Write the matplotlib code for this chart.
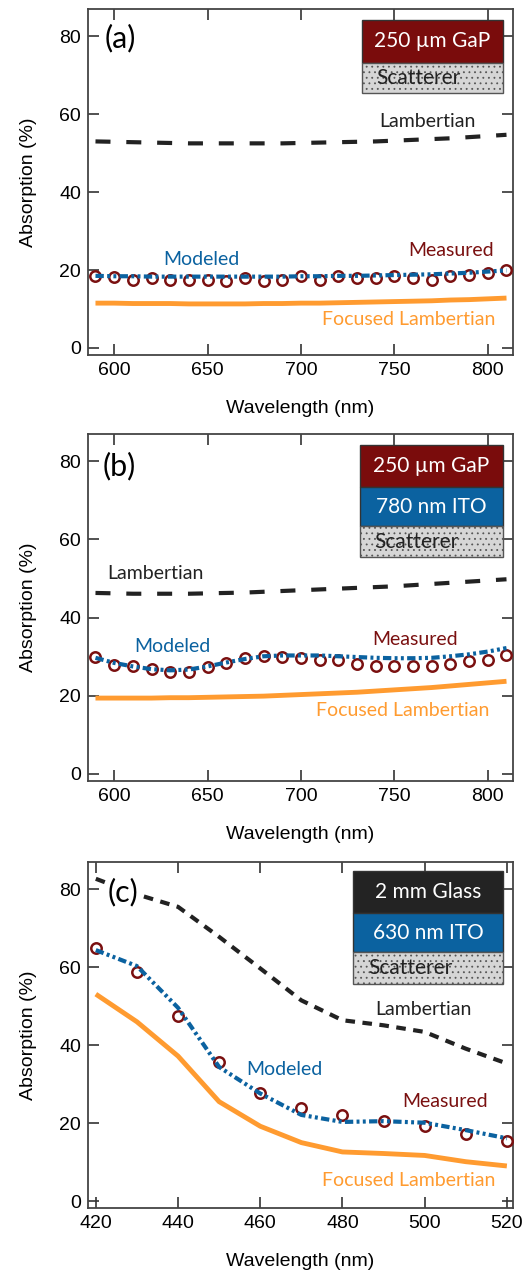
import matplotlib
matplotlib.use("Agg")
import matplotlib.pyplot as plt
from matplotlib.patches import Rectangle
import numpy as np

# ----------------------------------------------------------------------
# Data
# ----------------------------------------------------------------------

wl_ab = np.arange(590, 811, 10)
wl_c = np.arange(420, 521, 10)

# panel (a): 250 um GaP on scatterer
lamb_a = [53.0, 52.9, 52.8, 52.7, 52.6, 52.5, 52.5, 52.5, 52.5, 52.5, 52.5, 52.6,
          52.7, 52.8, 52.9, 53.0, 53.2, 53.4, 53.6, 53.8, 54.1, 54.4, 54.7]
model_a = [18.5, 18.4, 18.4, 18.3, 18.3, 18.3, 18.3, 18.3, 18.3, 18.3, 18.3, 18.4,
           18.4, 18.5, 18.5, 18.6, 18.7, 18.8, 18.9, 19.1, 19.3, 19.6, 19.9]
meas_a = [18.5, 18.1, 17.4, 17.9, 17.5, 17.5, 17.5, 17.1, 17.9, 17.3, 17.5, 18.4,
          17.5, 18.4, 17.9, 17.9, 18.5, 17.9, 17.4, 18.5, 18.7, 19.2, 19.9]
focus_a = [11.5, 11.5, 11.4, 11.4, 11.4, 11.3, 11.3, 11.3, 11.3, 11.4, 11.4, 11.5,
           11.5, 11.6, 11.7, 11.8, 11.9, 12.0, 12.1, 12.3, 12.4, 12.6, 12.8]

# panel (b): 250 um GaP / 780 nm ITO on scatterer
lamb_b = [46.3, 46.2, 46.1, 46.1, 46.1, 46.1, 46.2, 46.3, 46.4, 46.6, 46.8, 47.0,
          47.2, 47.4, 47.6, 47.8, 48.0, 48.3, 48.6, 48.9, 49.2, 49.5, 49.8]
model_b = [29.7, 28.4, 27.5, 26.8, 26.5, 26.7, 27.5, 28.5, 29.4, 30.1, 30.3, 30.3,
           30.3, 30.1, 29.9, 29.7, 29.6, 29.6, 29.7, 30.1, 30.6, 31.3, 32.2]
meas_b = [29.9, 27.9, 27.5, 26.8, 26.2, 26.2, 27.4, 28.4, 29.7, 30.1, 29.9, 29.7,
          29.2, 29.1, 28.2, 27.5, 27.5, 27.5, 27.5, 28.2, 29.0, 29.2, 30.3]
focus_b = [19.4, 19.4, 19.4, 19.4, 19.5, 19.5, 19.6, 19.7, 19.8, 19.9, 20.1, 20.3,
           20.5, 20.7, 20.9, 21.2, 21.5, 21.8, 22.1, 22.5, 22.9, 23.3, 23.7]

# panel (c): 2 mm glass / 630 nm ITO on scatterer
lamb_c = [82.7, 78.7, 75.5, 67.8, 59.7, 51.5, 46.4, 45.1, 43.4, 39.1, 35.3]
model_c = [64.4, 60.3, 49.6, 34.4, 27.6, 22.1, 20.3, 20.5, 20.1, 18.2, 16.1]
meas_c = [65.0, 58.8, 47.4, 35.7, 27.8, 23.8, 22.1, 20.5, 19.2, 17.2, 15.4]
focus_c = [53.1, 46.0, 37.2, 25.5, 19.2, 15.0, 12.6, 12.2, 11.7, 10.1, 9.0]

layers_a = [("250 µm GaP", "#7a0c0c"), ("Scatterer", None)]
layers_b = [("250 µm GaP", "#7a0c0c"), ("780 nm ITO", "#0b62a0"), ("Scatterer", None)]
layers_c = [("2 mm Glass", "#232323"), ("630 nm ITO", "#0b62a0"), ("Scatterer", None)]

# ----------------------------------------------------------------------
# Styles
# ----------------------------------------------------------------------

C_LAMB = "#222222"
C_MODEL = "#0b62a0"
C_MEAS = "#7a1010"
C_FOCUS = "#ff9b30"
C_SCAT = "#d6d6d6"

TXT_FONT = ["Lato", "DejaVu Sans"]
plt.rcParams["font.family"] = "sans-serif"
plt.rcParams["font.sans-serif"] = ["Liberation Sans", "DejaVu Sans"]
plt.rcParams["font.size"] = 14
plt.rcParams["hatch.color"] = "#c2c2c2"
plt.rcParams["hatch.linewidth"] = 0.6


def draw_stack(ax, layers, x0, y_top, heights):
    w = 0.976 - x0
    y = y_top
    for (label, color), h in zip(layers, heights):
        y -= h
        if color is None:
            ax.add_patch(Rectangle((x0, y), w, h, transform=ax.transAxes,
                                   facecolor=C_SCAT, edgecolor="#555555",
                                   hatch="...", lw=1.0, zorder=6))
            ax.text(x0 + 0.035, y + h / 2, label, transform=ax.transAxes,
                    ha="left", va="center", color="#222222", fontsize=15,
                    family=TXT_FONT, zorder=7)
        else:
            ax.add_patch(Rectangle((x0, y), w, h, transform=ax.transAxes,
                                   facecolor=color, edgecolor="#333333",
                                   lw=1.0, zorder=6))
            ax.text(x0 + w / 2, y + h / 2, label, transform=ax.transAxes,
                    ha="center", va="center", color="white", fontsize=15,
                    family=TXT_FONT, zorder=7)


def draw_panel(ax, wl, lamb, model, meas, focus, lamb_dash):
    ax.plot(wl, lamb, color=C_LAMB, lw=3, dashes=lamb_dash,
            dash_capstyle="butt", zorder=3)
    ax.plot(wl, focus, color=C_FOCUS, lw=3.5, solid_capstyle="butt", zorder=3)
    ax.plot(wl, meas, ls="none", marker="o", ms=7.5, mec=C_MEAS, mfc="white",
            mew=1.8, zorder=4)
    ax.plot(wl, model, color=C_MODEL, lw=3, dashes=(2.0, 0.8, 0.7, 0.8, 0.7, 0.8),
            dash_capstyle="butt", zorder=5)

    ax.set_ylim(-1.8, 87)
    ax.set_yticks([0, 20, 40, 60, 80])
    ax.set_xlabel("Wavelength (nm)", labelpad=15)
    ax.set_ylabel("Absorption (%)", labelpad=16)
    ax.tick_params(direction="in", length=8, width=1.2, top=True, right=True,
                   pad=5, color="#333333", labelsize=14)
    for sp in ax.spines.values():
        sp.set_linewidth(1.3)
        sp.set_color("#444444")


def label(ax, x, y, s, color, size=14):
    ax.text(x, y, s, color=color, fontsize=size, family=TXT_FONT,
            ha="center", va="center")


fig = plt.figure(figsize=(5.27, 12.75), dpi=100)
ax_a = fig.add_axes([0.167, 0.7216, 0.8065, 0.2714])
ax_b = fig.add_axes([0.167, 0.3875, 0.8065, 0.2722])
ax_c = fig.add_axes([0.167, 0.0525, 0.8065, 0.2714])

# (a)
draw_panel(ax_a, wl_ab, lamb_a, model_a, meas_a, focus_a, (3.6, 3.8))
ax_a.set_xlim(586, 813.5)
ax_a.set_xticks([600, 650, 700, 750, 800])
draw_stack(ax_a, layers_a, 0.644, 0.968, [0.123, 0.089])
label(ax_a, 603.5, 79.5, "(a)", "black", 22)
label(ax_a, 767.7, 58.1, "Lambertian", C_LAMB)
label(ax_a, 780.4, 25.0, "Measured", C_MEAS)
label(ax_a, 646.9, 22.6, "Modeled", C_MODEL)
label(ax_a, 757.9, 7.3, "Focused Lambertian", C_FOCUS)

# (b)
draw_panel(ax_b, wl_ab, lamb_b, model_b, meas_b, focus_b, (3.6, 3.8))
ax_b.set_xlim(586, 813.5)
ax_b.set_xticks([600, 650, 700, 750, 800])
draw_stack(ax_b, layers_b, 0.639, 0.969, [0.123, 0.111, 0.091])
label(ax_b, 602.8, 78.8, "(b)", "black", 22)
label(ax_b, 621.9, 51.3, "Lambertian", C_LAMB)
label(ax_b, 761.1, 34.4, "Measured", C_MEAS)
label(ax_b, 631.4, 32.6, "Modeled", C_MODEL)
label(ax_b, 754.6, 16.2, "Focused Lambertian", C_FOCUS)

# (c)
draw_panel(ax_c, wl_c, lamb_c, model_c, meas_c, focus_c, (2.3, 1.8))
ax_c.set_xlim(418.1, 521.5)
ax_c.set_xticks([420, 440, 460, 480, 500, 520])
draw_stack(ax_c, layers_c, 0.624, 0.973, [0.121, 0.113, 0.092])
ax_c.text(426.5, 79.3, "(c)", fontsize=22, family=TXT_FONT, ha="center", va="center",
          zorder=6, bbox=dict(facecolor="white", edgecolor="none", pad=1))
label(ax_c, 499.7, 49.1, "Lambertian", C_LAMB)
label(ax_c, 505.0, 25.5, "Measured", C_MEAS)
label(ax_c, 465.9, 33.8, "Modeled", C_MODEL)
label(ax_c, 496.2, 5.4, "Focused Lambertian", C_FOCUS)

fig.savefig("out.png", dpi=100)
